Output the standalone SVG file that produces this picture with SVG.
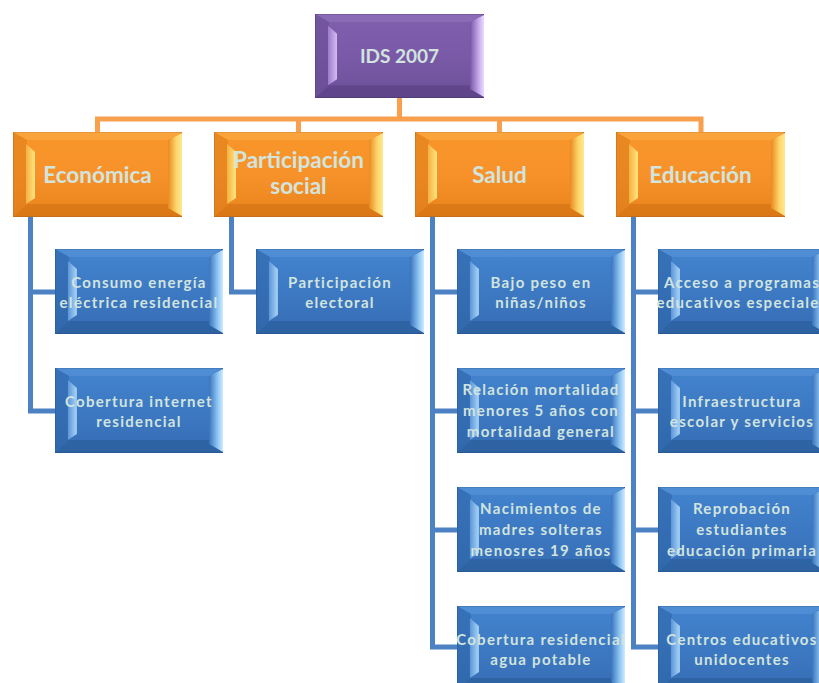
<svg xmlns="http://www.w3.org/2000/svg" xmlns:xlink="http://www.w3.org/1999/xlink" width="819" height="683" viewBox="0 0 819 683">
<style>
.t{font-family:Lato,"Liberation Sans",sans-serif;fill:#d2e4de;text-anchor:middle;font-weight:bold}
.top{font-size:19px}
.cat{font-size:22.5px}
.leaf{font-size:15px;letter-spacing:1.3px}
.oc{fill:none;stroke:#f8a04e;stroke-width:5}
.bc{fill:none;stroke:#4c82c4;stroke-width:5}
</style>
<defs>
<linearGradient id="gO" x1="0" y1="0" x2="0" y2="1"><stop offset="0" stop-color="#f8962a"/><stop offset="0.5" stop-color="#f7922a"/><stop offset="1" stop-color="#e9831c"/></linearGradient>
<linearGradient id="gP" x1="0" y1="0" x2="0" y2="1"><stop offset="0" stop-color="#7f5fae"/><stop offset="0.5" stop-color="#7a5aa8"/><stop offset="1" stop-color="#6b4f98"/></linearGradient>
<linearGradient id="gB" x1="0" y1="0" x2="0" y2="1"><stop offset="0" stop-color="#4383ce"/><stop offset="0.5" stop-color="#3d79c3"/><stop offset="1" stop-color="#366db3"/></linearGradient>
<linearGradient id="hLO" x1="0" y1="0" x2="1" y2="0"><stop offset="0" stop-color="#f5b040"/><stop offset="1" stop-color="#ffe680"/></linearGradient>
<linearGradient id="hRO" x1="0" y1="0" x2="1" y2="0"><stop offset="0" stop-color="#e88a22"/><stop offset="0.6" stop-color="#ffd66a"/><stop offset="1" stop-color="#ffe890"/></linearGradient>
<linearGradient id="hLP" x1="0" y1="0" x2="1" y2="0"><stop offset="0" stop-color="#9a7cc8"/><stop offset="1" stop-color="#d6baf5"/></linearGradient>
<linearGradient id="hRP" x1="0" y1="0" x2="1" y2="0"><stop offset="0" stop-color="#7656a4"/><stop offset="0.6" stop-color="#c4a6ea"/><stop offset="1" stop-color="#ecdcff"/></linearGradient>
<linearGradient id="hLB" x1="0" y1="0" x2="1" y2="0"><stop offset="0" stop-color="#5b95d8"/><stop offset="1" stop-color="#a9d4f6"/></linearGradient>
<linearGradient id="hRB" x1="0" y1="0" x2="1" y2="0"><stop offset="0" stop-color="#3a74bd"/><stop offset="0.6" stop-color="#8cc4f2"/><stop offset="1" stop-color="#cfeaff"/></linearGradient>
<symbol id="nO" viewBox="0 0 169 85" preserveAspectRatio="none">
<rect x="0" y="0" width="169" height="85" fill="url(#gO)" stroke="#b36a20" stroke-width="1.5"/>
<polygon points="0,0 169,0 155,8 14,8" fill="#fbae4a" opacity="0.6"/>
<polygon points="0,85 169,85 155,72 14,72" fill="#c96a10" opacity="0.45"/>
<polygon points="0,0 14,8 14,72 0,85" fill="#e07e1c" opacity="0.6"/>
<polygon points="13,12 22,20 22,66 13,72" fill="url(#hLO)"/>
<polygon points="155,8 169,1 169,84 155,76" fill="url(#hRO)"/>
</symbol>
<symbol id="nP" viewBox="0 0 169 85" preserveAspectRatio="none">
<rect x="0" y="0" width="169" height="85" fill="url(#gP)" stroke="#4f3a72" stroke-width="1.5"/>
<polygon points="0,0 169,0 155,8 14,8" fill="#9478c0" opacity="0.5"/>
<polygon points="0,85 169,85 155,72 14,72" fill="#4f3878" opacity="0.45"/>
<polygon points="0,0 14,8 14,72 0,85" fill="#6a4e96" opacity="0.6"/>
<polygon points="13,12 22,20 22,66 13,72" fill="url(#hLP)"/>
<polygon points="155,8 169,1 169,84 155,76" fill="url(#hRP)"/>
</symbol>
<symbol id="nB" viewBox="0 0 169 85" preserveAspectRatio="none">
<rect x="0" y="0" width="169" height="85" fill="url(#gB)" stroke="#2a5890" stroke-width="1.5"/>
<polygon points="0,0 169,0 155,8 14,8" fill="#5c97dc" opacity="0.5"/>
<polygon points="0,85 169,85 155,72 14,72" fill="#24548e" opacity="0.45"/>
<polygon points="0,0 14,8 14,72 0,85" fill="#2f65a8" opacity="0.6"/>
<polygon points="13,12 22,20 22,66 13,72" fill="url(#hLB)"/>
<polygon points="155,8 169,1 169,84 155,76" fill="url(#hRB)"/>
</symbol>
</defs>
<rect width="819" height="683" fill="#ffffff"/>
<g id="connectors">
<path class="oc" d="M399.5 98 V119 M97.5 132 V119 H701 V132 M298.5 119 V132 M499.5 119 V132"/>
<path class="bc" d="M30.5 217 V411 H55 M30.5 292 H55"/>
<path class="bc" d="M231.5 217 V292 H256"/>
<path class="bc" d="M432.5 217 V647 H457 M432.5 292 H457 M432.5 411 H457 M432.5 530 H457"/>
<path class="bc" d="M633.5 217 V647 H658 M633.5 292 H658 M633.5 411 H658 M633.5 530 H658"/>
</g>
<g id="ids2007"><use xlink:href="#nP" x="315" y="14" width="169" height="84"/><text class="t top" x="399.5" y="63">IDS 2007</text></g>
<g id="economica"><use xlink:href="#nO" x="13" y="132" width="169" height="85"/><text class="t cat" x="97.5" y="183">Económica</text></g>
<g id="participacion-social"><use xlink:href="#nO" x="214" y="132" width="169" height="85"/><text class="t cat" x="298.5" y="168">Participación</text><text class="t cat" x="298.5" y="194">social</text></g>
<g id="salud"><use xlink:href="#nO" x="415" y="132" width="169" height="85"/><text class="t cat" x="499.5" y="183">Salud</text></g>
<g id="educacion"><use xlink:href="#nO" x="616" y="132" width="169" height="85"/><text class="t cat" x="700.5" y="183">Educación</text></g>
<g id="consumo-energia"><use xlink:href="#nB" x="55" y="249" width="168" height="85"/><text class="t leaf" x="139" y="288">Consumo energía</text><text class="t leaf" x="139" y="308">eléctrica residencial</text></g>
<g id="cobertura-internet"><use xlink:href="#nB" x="55" y="368" width="168" height="85"/><text class="t leaf" x="139" y="407">Cobertura internet</text><text class="t leaf" x="139" y="427">residencial</text></g>
<g id="participacion-electoral"><use xlink:href="#nB" x="256" y="249" width="168" height="85"/><text class="t leaf" x="340" y="288">Participación</text><text class="t leaf" x="340" y="308">electoral</text></g>
<g id="bajo-peso"><use xlink:href="#nB" x="457" y="249" width="168" height="85"/><text class="t leaf" x="541" y="288">Bajo peso en</text><text class="t leaf" x="541" y="308">niñas/niños</text></g>
<g id="relacion-mortalidad"><use xlink:href="#nB" x="457" y="368" width="168" height="85"/><text class="t leaf" x="541" y="395">Relación mortalidad</text><text class="t leaf" x="541" y="416">menores 5 años con</text><text class="t leaf" x="541" y="437">mortalidad general</text></g>
<g id="nacimientos"><use xlink:href="#nB" x="457" y="487" width="168" height="85"/><text class="t leaf" x="541" y="514">Nacimientos de</text><text class="t leaf" x="541" y="535">madres solteras</text><text class="t leaf" x="541" y="556">menosres 19 años</text></g>
<g id="cobertura-agua"><use xlink:href="#nB" x="457" y="606" width="168" height="85"/><text class="t leaf" x="541" y="645">Cobertura residencial</text><text class="t leaf" x="541" y="665">agua potable</text></g>
<g id="acceso-programas"><use xlink:href="#nB" x="658" y="249" width="168" height="85"/><text class="t leaf" x="742" y="288">Acceso a programas</text><text class="t leaf" x="742" y="308">educativos especiales</text></g>
<g id="infraestructura"><use xlink:href="#nB" x="658" y="368" width="168" height="85"/><text class="t leaf" x="742" y="407">Infraestructura</text><text class="t leaf" x="742" y="427">escolar y servicios</text></g>
<g id="reprobacion"><use xlink:href="#nB" x="658" y="487" width="168" height="85"/><text class="t leaf" x="742" y="514">Reprobación</text><text class="t leaf" x="742" y="535">estudiantes</text><text class="t leaf" x="742" y="556">educación primaria</text></g>
<g id="centros-educativos"><use xlink:href="#nB" x="658" y="606" width="168" height="85"/><text class="t leaf" x="742" y="645">Centros educativos</text><text class="t leaf" x="742" y="665">unidocentes</text></g>
</svg>
